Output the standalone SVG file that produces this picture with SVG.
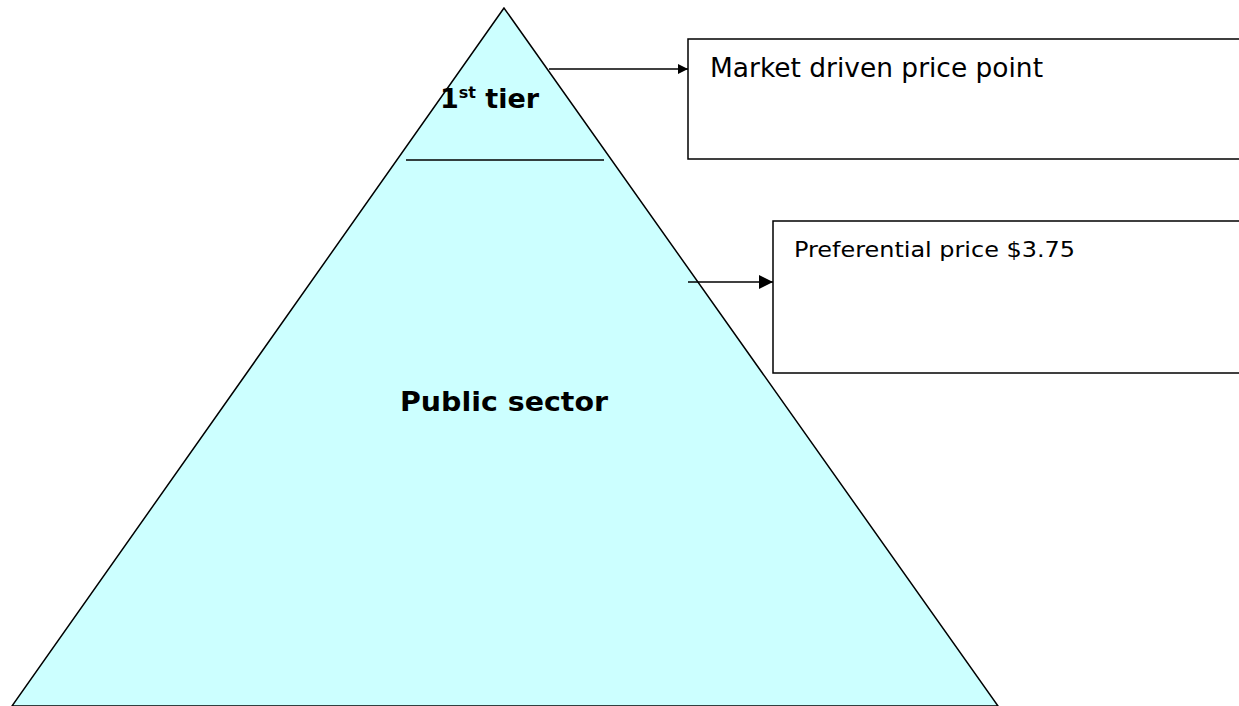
<svg xmlns="http://www.w3.org/2000/svg" width="1239" height="706" viewBox="0 0 1239 706">
<defs>
<style>
.edge{stroke:#000;stroke-width:1.5;fill:none}
.box{fill:#fff;stroke:#000;stroke-width:1.5}
.lbl{font-family:"DejaVu Sans","Liberation Sans",sans-serif;fill:#000}
.b{font-weight:bold}
</style>
<marker id="ah" viewBox="0 0 10 10" refX="10" refY="5" markerWidth="10" markerHeight="10" markerUnits="userSpaceOnUse" orient="auto"><path d="M0,0 L10,5 L0,10 z" fill="#000"/></marker>
<marker id="ah2" viewBox="0 0 10 10" refX="10" refY="5" markerWidth="14" markerHeight="14" markerUnits="userSpaceOnUse" orient="auto"><path d="M0,0 L10,5 L0,10 z" fill="#000"/></marker>
</defs>
<rect width="1239" height="706" fill="#fff"/>
<g id="pyramid">
<polygon points="504,8 12,706 998,706" fill="#ccffff" stroke="#000" stroke-width="1.5"/>
<line x1="406" y1="160" x2="604" y2="160" stroke="#000" stroke-width="1.5"/>
<text class="lbl b" x="440" y="108" font-size="27">1<tspan font-size="16" dy="-10">st</tspan><tspan dy="10"> tier</tspan></text>
<text class="lbl b" x="400" y="411" font-size="26" textLength="208" lengthAdjust="spacingAndGlyphs">Public sector</text>
</g>
<g id="box1">
<rect class="box" x="688" y="39" width="560" height="120"/>
<text class="lbl" x="710" y="77" font-size="26" textLength="333" lengthAdjust="spacingAndGlyphs">Market driven price point</text>
</g>
<g id="box2">
<rect class="box" x="773" y="221" width="470" height="152"/>
<text class="lbl" x="794" y="257" font-size="22" textLength="281" lengthAdjust="spacingAndGlyphs">Preferential price $3.75</text>
</g>
<g id="connectors">
<line class="edge" x1="549" y1="69" x2="688" y2="69" marker-end="url(#ah)"/>
<line class="edge" x1="688" y1="282" x2="773" y2="282" marker-end="url(#ah2)"/>
</g>
</svg>
